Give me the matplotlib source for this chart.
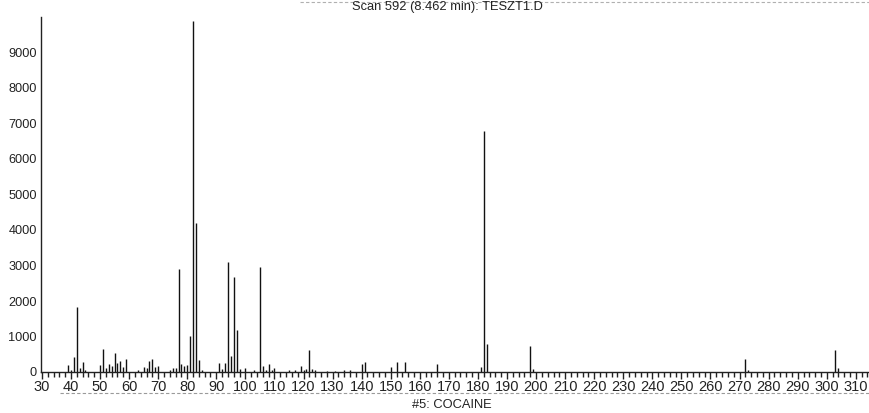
import numpy as np
import matplotlib.pyplot as plt
from matplotlib.ticker import MultipleLocator

plt.rcParams['font.family'] = ['Liberation Sans', 'DejaVu Sans']

# scan 592 mass spectrum: m/z and abundance
mz = [39, 40, 41, 42, 43, 44, 45,
      50, 51, 52, 53, 54, 55, 56, 57, 58, 59,
      63, 65, 66, 67, 68, 69, 70,
      74, 75, 76, 77, 78, 79, 80, 81, 82, 83, 84, 85,
      91, 92, 93, 94, 95, 96, 97, 98, 100,
      103, 105, 106, 107, 108, 109, 110,
      115, 117, 119, 120, 121, 122, 123, 124,
      128, 131, 134, 136, 140, 141,
      150, 152, 155, 166,
      181, 182, 183, 198, 199,
      272, 273, 303, 304]
abundance = [200, 60, 420, 1820, 120, 280, 60,
             190, 640, 100, 230, 180, 540, 240, 320, 130, 380,
             60, 140, 120, 320, 370, 130, 160,
             60, 100, 120, 2900, 230, 170, 200, 1020, 9900, 4200, 330, 60,
             250, 90, 260, 3100, 450, 2680, 1180, 80, 110,
             60, 2960, 180, 60, 220, 50, 110,
             60, 70, 180, 70, 90, 620, 90, 50,
             40, 40, 50, 60, 220, 280,
             130, 280, 270, 230,
             150, 6800, 780, 720, 90,
             380, 50, 620, 100]

title = "Scan 592 (8.462 min): TESZT1.D"
library_hit = "#5: COCAINE"

W, H = 870, 413
fig = plt.figure(figsize=(W / 100, H / 100), dpi=100)
ax = fig.add_axes([41 / W, 41 / H, 829 / W, 355 / H])

ax.vlines(mz, 0, abundance, color='#111111', lw=1.0)

ax.set_xlim(29.7, 29.7 + 829 / 2.907)
ax.set_ylim(0, 10000)

ax.xaxis.set_major_locator(MultipleLocator(10))
ax.xaxis.set_minor_locator(MultipleLocator(2))
ax.set_yticks(np.arange(0, 10000, 1000))

ax.tick_params(axis='x', which='major', direction='out', length=5, width=1.0,
               pad=1, colors='#222222')
ax.tick_params(axis='x', which='minor', direction='out', length=3.5, width=1.0,
               colors='#222222')
ax.tick_params(axis='y', length=0, pad=3, labelsize=9.2, colors='#222222')
for lbl in ax.get_xticklabels():
    lbl.set_family(['Liberation Sans Narrow', 'Liberation Sans'])
    lbl.set_fontsize(10.5)

for side in ['top', 'right']:
    ax.spines[side].set_visible(False)
for side in ['left', 'bottom']:
    ax.spines[side].set_color('#222222')
    ax.spines[side].set_linewidth(1.0)

fig.text(447 / W, 1 - 7 / H, title, ha='center', va='center',
         fontsize=9.3, color='#222222')
fig.text(452 / W, 1 - 405 / H, library_hit, ha='center', va='center',
         fontsize=9.3, color='#222222')

# dotted frame edges of the printout
fig.add_artist(plt.Line2D([60 / W, 1.0], [1 - 393 / H] * 2, color='#9a9a9a',
                          lw=0.8, ls=(0, (3, 2))))
fig.add_artist(plt.Line2D([300 / W, 1.0], [1 - 2 / H] * 2, color='#b0b0b0',
                          lw=0.8, ls=(0, (3, 2))))

fig.savefig('out.png', dpi=100, facecolor='white')
